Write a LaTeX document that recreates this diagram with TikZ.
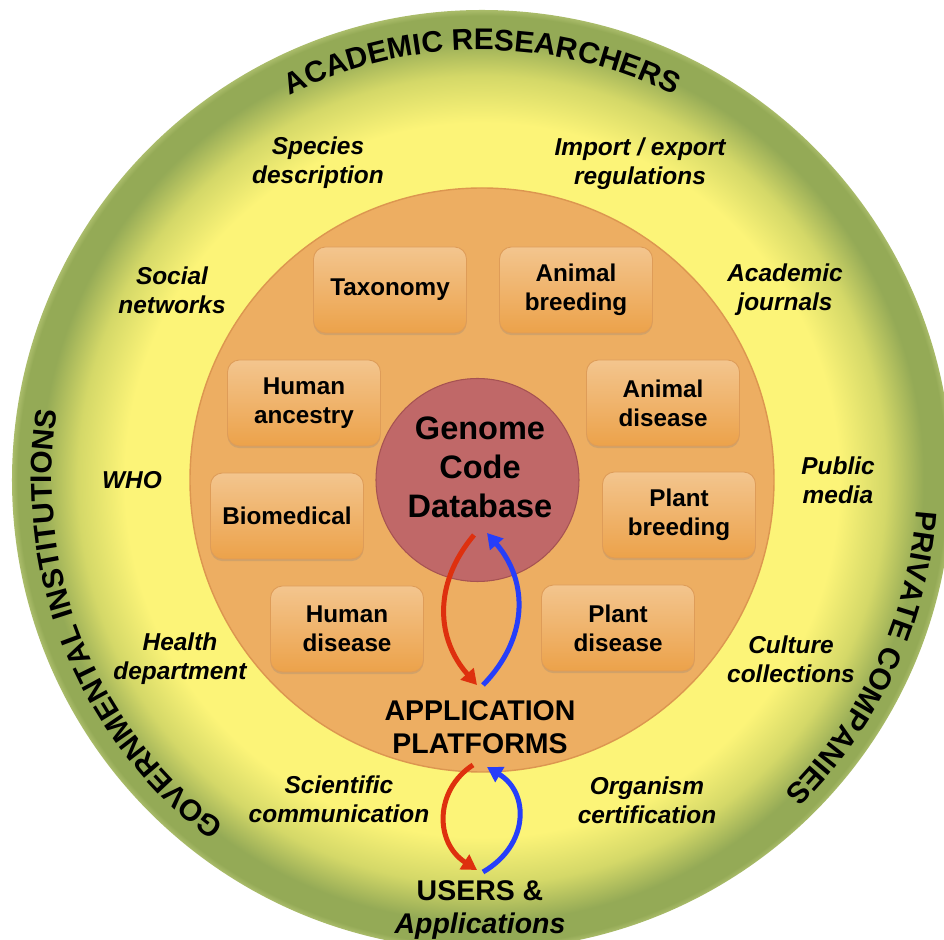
\documentclass[tikz,border=0pt]{standalone}
\usepackage{fontspec}
\setmainfont{Liberation Sans}
\usetikzlibrary{arrows.meta,shadows,decorations.text}
\definecolor{ringyellow}{RGB}{252,244,120}
\definecolor{ringmid}{RGB}{212,216,104}
\definecolor{ringgreen}{RGB}{148,170,86}
\definecolor{ringrim}{RGB}{170,188,106}
\definecolor{discorange}{RGB}{237,174,98}
\definecolor{discedge}{RGB}{220,150,80}
\definecolor{boxtop}{RGB}{243,197,142}
\definecolor{boxbottom}{RGB}{236,162,74}
\definecolor{boxedge}{RGB}{222,156,88}
\definecolor{corered}{RGB}{192,104,104}
\definecolor{coreedge}{RGB}{166,82,82}
\definecolor{arrowred}{RGB}{222,48,14}
\definecolor{arrowblue}{RGB}{38,62,250}
\pgfdeclareradialshading{ringglow}{\pgfpoint{0bp}{0bp}}{color(0bp)=(ringyellow); color(19bp)=(ringyellow); color(21.5bp)=(ringmid); color(23.5bp)=(ringgreen); color(24.7bp)=(ringgreen); color(25bp)=(ringrim); color(50bp)=(ringrim)}
\newcommand{\sectorfont}{\bfseries\fontsize{17}{20}\selectfont}
\tikzstyle{topic}=[rectangle,rounded corners=0.24cm,draw=boxedge,line width=0.5pt,top color=boxtop,bottom color=boxbottom,minimum width=3.06cm,minimum height=1.72cm,align=center,font=\bfseries\fontsize{13.8}{16.5}\selectfont,drop shadow={shadow xshift=0pt,shadow yshift=-1.2pt,opacity=0.25}]
\tikzstyle{channel}=[align=center,font=\bfseries\itshape\fontsize{13.9}{16.5}\selectfont]
\tikzstyle{core}=[circle,fill=corered,draw=coreedge,line width=0.6pt,minimum size=4.06cm]
\tikzstyle{coretext}=[align=center,inner sep=0pt,font=\bfseries\fontsize{18.5}{22.2}\selectfont]
\tikzstyle{layer}=[align=center,inner sep=0pt,font=\bfseries\fontsize{16.2}{18.8}\selectfont]
\tikzstyle{request}=[-{Triangle[length=0.3cm,width=0.34cm]},line width=0.1cm,draw=arrowred]
\tikzstyle{reply}=[-{Triangle[length=0.3cm,width=0.34cm]},line width=0.1cm,draw=arrowblue]
\tikzstyle{sector}=[decorate,decoration={text along path,text align=center}]

\begin{document}
\begin{tikzpicture}
                    \useasboundingbox (-9.64,-9.2) rectangle (9.24,9.6);
                    \shade [shading=ringglow] (0,0) circle (9.4);
                    \draw [fill=discorange,draw=discedge,line width=0.8pt] (0,0) circle (5.84);

                    \path [sector,decoration={text={|\sectorfont|ACADEMIC RESEARCHERS}}] (135:8.6) arc[start angle=135,end angle=45,radius=8.6];
                    \path [sector,decoration={text={|\sectorfont|GOVERNMENTAL INSTITUTIONS}}] (250:8.6) arc[start angle=250,end angle=154,radius=8.6];
                    \path [sector,decoration={text={|\sectorfont|PRIVATE COMPANIES}}] (20:8.7) arc[start angle=20,end angle=-70,radius=8.7];

                    \node (db) at (-0.09,0) [core] {};
                    \node (dbtext) at (-0.04,0.26) [coretext] {Genome\\Code\\Database};

                    \node (tax) at (-1.84,3.8) [topic] {Taxonomy};
                    \node (abreed) at (1.88,3.8) [topic] {Animal\\breeding};
                    \node (hanc) at (-3.56,1.54) [topic] {Human\\ancestry};
                    \node (adis) at (3.62,1.54) [topic] {Animal\\disease};
                    \node (biomed) at (-3.9,-0.72) [topic] {Biomedical};
                    \node (pbreed) at (3.94,-0.7) [topic] {Plant\\breeding};
                    \node (hdis) at (-2.7,-2.98) [topic] {Human\\disease};
                    \node (pdis) at (2.72,-2.96) [topic] {Plant\\disease};

                    \node (species) at (-3.28,6.34) [channel] {Species\\description};
                    \node (import) at (3.16,6.32) [channel] {Import / export\\regulations};
                    \node (social) at (-6.2,3.8) [channel] {Social\\networks};
                    \node (journals) at (6.06,3.8) [channel] {Academic\\journals};
                    \node (who) at (-7.0,0) [channel] {WHO};
                    \node (media) at (7.12,0) [channel] {Public\\media};
                    \node (health) at (-6.04,-3.58) [channel] {Health\\department};
                    \node (culture) at (6.18,-3.58) [channel] {Culture\\collections};
                    \node (scicom) at (-2.86,-6.38) [channel] {Scientific\\communication};
                    \node (certif) at (3.3,-6.4) [channel] {Organism\\certification};

                    \node (app) at (-0.04,-4.94) [layer] {APPLICATION\\PLATFORMS};
                    \node (users) at (-0.04,-8.6) [layer] {USERS \&\\\itshape Applications};

                    \draw [request] ([shift={(-0.07,-1.1)}]db.center) .. controls +(-0.84,-1.0) and +(-0.8,0.9) .. ([shift={(-0.06,0.84)}]app.center);
                    \draw [reply] ([shift={(0.06,0.84)}]app.center) .. controls +(0.88,0.9) and +(0.86,-1.0) .. ([shift={(0.19,-1.06)}]db.center);
                    \draw [request] ([shift={(-0.14,-0.76)}]app.center) .. controls +(-0.77,-0.5) and +(-0.85,0.55) .. ([shift={(-0.06,0.8)}]users.center);
                    \draw [reply] ([shift={(0.06,0.76)}]users.center) .. controls +(0.93,0.54) and +(0.85,-0.51) .. ([shift={(0.14,-0.8)}]app.center);
                \end{tikzpicture}
\end{document}
